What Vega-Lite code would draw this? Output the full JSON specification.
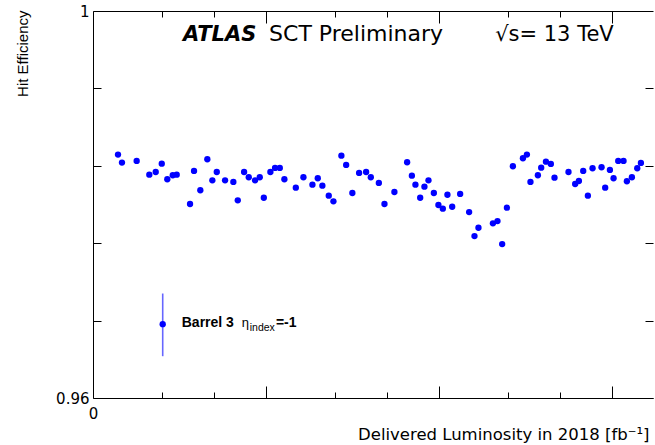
{
  "$schema": "https://vega.github.io/schema/vega-lite/v6.json",
  "width": 560,
  "height": 387,
  "autosize": {"type": "none"},
  "padding": {"left": 93, "top": 11, "right": 2, "bottom": 47},
  "background": "white",
  "config": {
    "view": {"stroke": null},
    "axis": {
      "labelColor": "black", "titleColor": "black",
      "domainColor": "black", "domainWidth": 1,
      "labelFont": "DejaVu Sans", "titleFont": "DejaVu Sans",
      "titleFontWeight": "normal",
      "labelFlush": false, "labelOverlap": false
    }
  },
  "datasets": {
    "pts": [
      {"lum": 2.89, "eff": 0.98516}, {"lum": 3.35, "eff": 0.98433}, {"lum": 5.05, "eff": 0.98450},
      {"lum": 6.51, "eff": 0.98308}, {"lum": 7.25, "eff": 0.98336}, {"lum": 7.95, "eff": 0.98422},
      {"lum": 8.59, "eff": 0.98261}, {"lum": 9.22, "eff": 0.98302}, {"lum": 9.68, "eff": 0.98308},
      {"lum": 11.22, "eff": 0.98005}, {"lum": 11.68, "eff": 0.98347}, {"lum": 12.41, "eff": 0.98147},
      {"lum": 13.22, "eff": 0.98468}, {"lum": 13.80, "eff": 0.98250}, {"lum": 14.31, "eff": 0.98336},
      {"lum": 15.27, "eff": 0.98250}, {"lum": 16.23, "eff": 0.98233}, {"lum": 16.74, "eff": 0.98043},
      {"lum": 17.47, "eff": 0.98336}, {"lum": 18.01, "eff": 0.98282}, {"lum": 18.74, "eff": 0.98250},
      {"lum": 19.28, "eff": 0.98282}, {"lum": 19.75, "eff": 0.98070}, {"lum": 20.51, "eff": 0.98336},
      {"lum": 21.05, "eff": 0.98378}, {"lum": 21.60, "eff": 0.98378}, {"lum": 22.13, "eff": 0.98261},
      {"lum": 23.45, "eff": 0.98174}, {"lum": 24.33, "eff": 0.98282}, {"lum": 25.37, "eff": 0.98205},
      {"lum": 25.99, "eff": 0.98271}, {"lum": 26.52, "eff": 0.98195}, {"lum": 27.26, "eff": 0.98091},
      {"lum": 27.80, "eff": 0.98033}, {"lum": 28.72, "eff": 0.98505}, {"lum": 29.27, "eff": 0.98409},
      {"lum": 29.99, "eff": 0.98119}, {"lum": 30.77, "eff": 0.98326}, {"lum": 31.58, "eff": 0.98336},
      {"lum": 32.12, "eff": 0.98282}, {"lum": 33.05, "eff": 0.98223}, {"lum": 33.70, "eff": 0.98005},
      {"lum": 34.85, "eff": 0.98129}, {"lum": 36.32, "eff": 0.98437}, {"lum": 36.87, "eff": 0.98298},
      {"lum": 37.28, "eff": 0.98205}, {"lum": 37.83, "eff": 0.98070}, {"lum": 38.32, "eff": 0.98184},
      {"lum": 38.79, "eff": 0.98250}, {"lum": 39.41, "eff": 0.98119}, {"lum": 39.94, "eff": 0.97995},
      {"lum": 40.45, "eff": 0.97957}, {"lum": 40.98, "eff": 0.98101}, {"lum": 41.53, "eff": 0.97977},
      {"lum": 42.45, "eff": 0.98109}, {"lum": 43.49, "eff": 0.97922}, {"lum": 44.11, "eff": 0.97674},
      {"lum": 44.57, "eff": 0.97760}, {"lum": 46.24, "eff": 0.97805}, {"lum": 46.77, "eff": 0.97829},
      {"lum": 47.31, "eff": 0.97591}, {"lum": 47.86, "eff": 0.97967}, {"lum": 48.55, "eff": 0.98395},
      {"lum": 49.71, "eff": 0.98478}, {"lum": 50.17, "eff": 0.98516}, {"lum": 50.58, "eff": 0.98233},
      {"lum": 51.44, "eff": 0.98302}, {"lum": 51.82, "eff": 0.98381}, {"lum": 52.37, "eff": 0.98443},
      {"lum": 52.94, "eff": 0.98419}, {"lum": 53.36, "eff": 0.98277}, {"lum": 54.98, "eff": 0.98336},
      {"lum": 55.75, "eff": 0.98212}, {"lum": 56.18, "eff": 0.98243}, {"lum": 56.68, "eff": 0.98347},
      {"lum": 57.22, "eff": 0.98091}, {"lum": 57.76, "eff": 0.98375}, {"lum": 58.80, "eff": 0.98385},
      {"lum": 59.22, "eff": 0.98174}, {"lum": 59.77, "eff": 0.98357}, {"lum": 60.19, "eff": 0.98271},
      {"lum": 60.73, "eff": 0.98450}, {"lum": 61.34, "eff": 0.98450}, {"lum": 61.73, "eff": 0.98240},
      {"lum": 62.31, "eff": 0.98282}, {"lum": 62.93, "eff": 0.98375}, {"lum": 63.35, "eff": 0.98430}
    ],
    "one": [{}]
  },
  "layer": [
    {
      "data": {"name": "pts"},
      "mark": {"type": "circle", "size": 40, "color": "#0000ff", "opacity": 1},
      "encoding": {
        "x": {
          "field": "lum", "type": "quantitative",
          "scale": {"domain": [0, 64.75], "nice": false, "zero": false},
          "axis": {
            "orient": "bottom",
            "values": [0, 2, 4, 6, 8, 10, 12, 14, 16, 18, 20, 22, 24, 26, 28, 30, 32, 34, 36, 38, 40, 42, 44, 46, 48, 50, 52, 54, 56, 58, 60, 62, 64, 10.0001, 20.0001, 30.0001, 40.0001, 50.0001, 60.0001, 64.75],
            "format": "d",
            "labelExpr": "datum.value % 10 === 0 ? datum.label : ''",
            "ticks": false, "domain": true, "labelFontSize": 15, "labelPadding": 8,
            "grid": true, "gridWidth": 1, "gridOpacity": 1,
            "gridDash": {
              "condition": [
                {"test": "datum.value > 64.5", "value": [1000, 1]},
                {"test": "datum.value % 10 === 0", "value": [1, 2]},
                {"test": "datum.value % 10 < 0.01", "value": [12, 363]}
              ],
              "value": [6, 375]
            },
            "gridColor": {
              "condition": {"test": "datum.value % 10 === 0", "value": "#333333"},
              "value": "black"
            },
            "title": "Delivered Luminosity in 2018 [fb⁻¹]", "titleFontSize": 16.5,
            "titleAnchor": "end", "titleAlign": "right", "titleX": 556, "titleY": 41,
            "titleBaseline": "alphabetic"
          }
        },
        "y": {
          "field": "eff", "type": "quantitative",
          "scale": {"domain": [0.96, 1], "nice": false, "zero": false},
          "axis": {
            "orient": "left",
            "values": [0.96, 0.961, 0.962, 0.963, 0.964, 0.965, 0.966, 0.967, 0.968, 0.969, 0.97, 0.971, 0.972, 0.973, 0.974, 0.975, 0.976, 0.977, 0.978, 0.979, 0.98, 0.981, 0.982, 0.983, 0.984, 0.985, 0.986, 0.987, 0.988, 0.989, 0.99, 0.991, 0.992, 0.993, 0.994, 0.995, 0.996, 0.997, 0.998, 0.999, 1],
            "format": "~g",
            "labelExpr": "abs(datum.value * 200 - round(datum.value * 200)) < 0.001 ? datum.label : ''",
            "ticks": false, "domain": true, "labelFontSize": 15, "labelPadding": 4,
            "grid": true, "gridWidth": 1, "gridOpacity": 1, "gridColor": "black",
            "gridDash": {
              "condition": [
                {"test": "datum.value > 0.9999 || datum.value < 0.9601", "value": [1000, 1]},
                {"test": "abs(datum.value * 200 - round(datum.value * 200)) < 0.001", "value": [16, 528]}
              ],
              "value": [8, 544]
            },
            "title": "Hit Efficiency", "titleFont": "Liberation Sans", "titleFontSize": 15,
            "titleX": -71, "titleY": -1, "titleAlign": "right", "titleBaseline": "middle", "titleAngle": -90
          }
        }
      }
    },
    {
      "data": {"name": "one"},
      "mark": {"type": "rule", "color": "#0000ff", "strokeWidth": 1.6, "opacity": 0.6},
      "encoding": {
        "x": {"datum": 8.06, "type": "quantitative"},
        "y": {"datum": 0.9708, "type": "quantitative"},
        "y2": {"datum": 0.96432}
      }
    },
    {
      "data": {"name": "one"},
      "mark": {"type": "circle", "size": 40, "color": "#0000ff", "opacity": 1},
      "encoding": {
        "x": {"datum": 8.06, "type": "quantitative"},
        "y": {"datum": 0.96763, "type": "quantitative"}
      }
    },
    {
      "data": {"name": "one"},
      "mark": {"type": "text", "text": "ATLAS", "font": "DejaVu Sans", "fontWeight": "bold", "fontStyle": "italic", "fontSize": 21, "align": "left", "baseline": "alphabetic", "color": "black"},
      "encoding": {
        "x": {"datum": 10.41, "type": "quantitative"},
        "y": {"datum": 0.99693, "type": "quantitative"}
      }
    },
    {
      "data": {"name": "one"},
      "mark": {"type": "text", "text": "SCT Preliminary", "font": "DejaVu Sans", "fontSize": 22, "align": "left", "baseline": "alphabetic", "color": "black"},
      "encoding": {
        "x": {"datum": 20.36, "type": "quantitative"},
        "y": {"datum": 0.99693, "type": "quantitative"}
      }
    },
    {
      "data": {"name": "one"},
      "mark": {"type": "text", "text": "√s= 13 TeV", "font": "DejaVu Sans", "fontSize": 21, "align": "left", "baseline": "alphabetic", "color": "black"},
      "encoding": {
        "x": {"datum": 46.5, "type": "quantitative"},
        "y": {"datum": 0.99693, "type": "quantitative"}
      }
    },
    {
      "data": {"name": "one"},
      "mark": {"type": "text", "text": "Barrel 3", "font": "Liberation Sans", "fontWeight": "bold", "fontSize": 14, "align": "left", "baseline": "alphabetic", "color": "black"},
      "encoding": {
        "x": {"datum": 10.26, "type": "quantitative"},
        "y": {"datum": 0.96732, "type": "quantitative"}
      }
    },
    {
      "data": {"name": "one"},
      "mark": {"type": "text", "text": "η", "font": "Liberation Sans", "fontSize": 13, "align": "left", "baseline": "alphabetic", "color": "black"},
      "encoding": {
        "x": {"datum": 17.2, "type": "quantitative"},
        "y": {"datum": 0.96732, "type": "quantitative"}
      }
    },
    {
      "data": {"name": "one"},
      "mark": {"type": "text", "text": "index", "font": "Liberation Sans", "fontSize": 10.5, "align": "left", "baseline": "alphabetic", "color": "black"},
      "encoding": {
        "x": {"datum": 18.12, "type": "quantitative"},
        "y": {"datum": 0.9669, "type": "quantitative"}
      }
    },
    {
      "data": {"name": "one"},
      "mark": {"type": "text", "text": "=-1", "font": "Liberation Sans", "fontWeight": "bold", "fontSize": 14, "align": "left", "baseline": "alphabetic", "color": "black"},
      "encoding": {
        "x": {"datum": 21.15, "type": "quantitative"},
        "y": {"datum": 0.96732, "type": "quantitative"}
      }
    }
  ]
}
